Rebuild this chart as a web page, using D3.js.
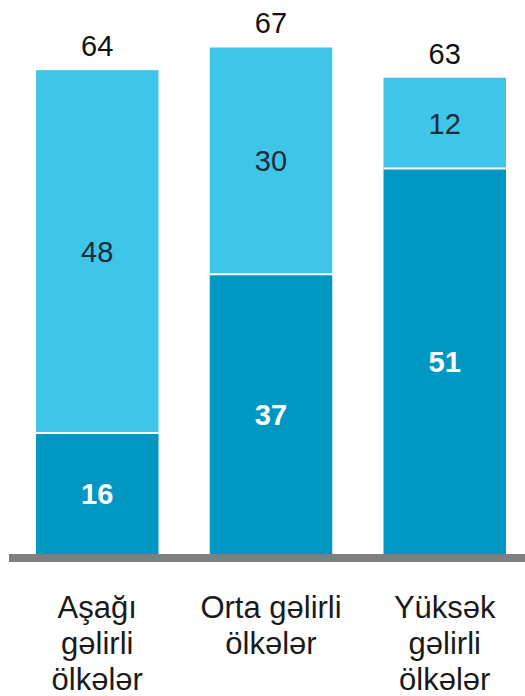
<!DOCTYPE html>
<html>
<head>
<meta charset="utf-8">
<script src="https://cdn.jsdelivr.net/npm/d3@7"></script>
<style>
  body { margin: 0; background: #fff; }
  svg { display: block; font-family: "Liberation Sans", Arial, sans-serif; }
</style>
</head>
<body>
<svg width="525" height="696"></svg>
<script>
const categories = ["low", "middle", "high"];
const categoryLines = [
  ["Aşağı", "gəlirli", "ölkələr"],
  ["Orta gəlirli", "ölkələr"],
  ["Yüksək", "gəlirli", "ölkələr"]
];
const lowerValues = [16, 37, 51];
const upperValues = [48, 30, 12];
const totals = [64, 67, 63];

const lightColor = "#3ec5e7",
  darkColor = "#0097c3",
  textColor = "#1c2b3c";

let svg = d3.select("svg");

const baseY = 554;

const x = d3
  .scaleBand()
  .domain(categories)
  .range([36, 506])
  .paddingInner(0.295)
  .paddingOuter(0);

const y = d3.scaleLinear().domain([0, 70]).range([baseY, baseY - 70 * 7.56]);

const rows = categories.map((c, i) => ({
  cat: c,
  lower: lowerValues[i],
  upper: upperValues[i]
}));

const stack = d3.stack().keys(["lower", "upper"]);
const series = stack(rows);
const colors = { lower: darkColor, upper: lightColor };

// stacked segments
svg
  .selectAll("g.series")
  .data(series)
  .enter()
  .append("g")
  .attr("class", "series")
  .attr("fill", (s) => colors[s.key])
  .selectAll("rect")
  .data((s) => s)
  .enter()
  .append("rect")
  .attr("x", (d) => x(d.data.cat))
  .attr("width", x.bandwidth())
  .attr("y", (d) => y(d[1]))
  .attr("height", (d) => y(d[0]) - y(d[1]));

// white line between segments
svg
  .selectAll("line.sep")
  .data(rows)
  .enter()
  .append("line")
  .attr("class", "sep")
  .attr("x1", (d) => x(d.cat))
  .attr("x2", (d) => x(d.cat) + x.bandwidth())
  .attr("y1", (d) => y(d.lower))
  .attr("y2", (d) => y(d.lower))
  .attr("stroke", "#fff")
  .attr("stroke-width", 2);

// segment labels
series.forEach((s) => {
  svg
    .selectAll(null)
    .data(s)
    .enter()
    .append("text")
    .attr("x", (d) => x(d.data.cat) + x.bandwidth() / 2)
    .attr("y", (d) => (y(d[0]) + y(d[1])) / 2)
    .attr("dy", "0.36em")
    .attr("text-anchor", "middle")
    .attr("font-size", "29px")
    .attr("font-weight", s.key === "lower" ? "bold" : "normal")
    .attr("fill", s.key === "lower" ? "#fff" : textColor)
    .text((d) => d.data[s.key]);
});

// totals above bars
svg
  .selectAll("text.total")
  .data(totals)
  .enter()
  .append("text")
  .attr("class", "total")
  .attr("x", (d, i) => x(categories[i]) + x.bandwidth() / 2)
  .attr("y", (d) => y(d) - 14)
  .attr("text-anchor", "middle")
  .attr("font-size", "29px")
  .attr("fill", "#111")
  .text((d) => d);

// baseline
svg
  .append("rect")
  .attr("x", 9)
  .attr("y", baseY)
  .attr("width", 516)
  .attr("height", 8)
  .attr("fill", "#7f7f7f");

// category labels
const xAxis = d3.axisBottom(x).tickSize(0).tickFormat("");
const axisG = svg
  .append("g")
  .attr("transform", `translate(0, ${baseY + 8})`)
  .call(xAxis);
axisG.select(".domain").remove();

axisG
  .selectAll(".tick")
  .append("text")
  .attr("text-anchor", "middle")
  .attr("font-size", "31px")
  .attr("fill", "#1a1a1a")
  .each(function (d, i) {
    d3.select(this)
      .selectAll("tspan")
      .data(categoryLines[i])
      .enter()
      .append("tspan")
      .attr("x", 0)
      .attr("y", (t, j) => 56 + j * 36)
      .text((t) => t);
  });
</script>
</body>
</html>
